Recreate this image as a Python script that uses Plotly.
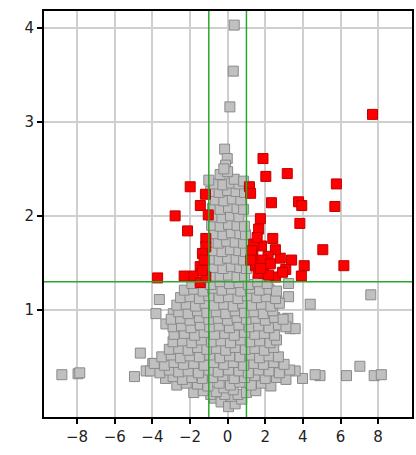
import plotly.graph_objects as go

# Significant features (|log2 FC| > 1 and -log10 p > 1.3)
red_x = [7.70, 1.88, 2.03, 3.17, 5.78, 2.33, 3.77, 3.94, 5.70, 3.84, 1.16, 1.22,
         5.06, 6.18, 4.07, 3.92, 3.40, 3.09, 2.55, 2.80, 2.54, 2.40, 1.74, 1.65,
         1.80, 1.34, 1.48, 2.15, 1.92, 1.39, 1.57, 1.83, 2.27, 2.92, 1.62, 2.18,
         1.27, 1.22, 1.74,
         -1.99, -1.18, -1.45, -2.79, -1.03, -2.13, -1.16, -1.16, -1.34, -1.46,
         -1.25, -3.72, -2.31, -1.78, -1.46, -1.16, -1.34]
red_y = [3.08, 2.61, 2.42, 2.45, 2.34, 2.14, 2.15, 2.11, 2.10, 1.92, 2.31, 2.24,
         1.64, 1.47, 1.47, 1.36, 1.53, 1.43, 1.35, 1.55, 1.64, 1.76, 1.97, 1.86,
         1.68, 1.59, 1.47, 1.57, 1.39, 1.70, 1.77, 1.53, 1.49, 1.40, 1.39, 1.37,
         1.63, 1.53, 1.44,
         2.31, 2.23, 2.11, 2.00, 2.01, 1.84, 1.76, 1.67, 1.60, 1.46,
         1.53, 1.34, 1.36, 1.36, 1.29, 1.35, 1.42]

# Non-significant features
grey_xy = [
    # isolated points
    (0.35, 4.03), (0.30, 3.54), (0.12, 3.16), (-0.16, 2.71), (-0.02, 2.61), (-0.11, 2.54),
    (7.61, 1.16), (4.39, 1.06), (3.24, 1.14), (3.24, 1.28), (-3.63, 1.11), (-3.81, 0.96),
    (-3.28, 0.85), (-2.89, 0.96), (-4.64, 0.54), (-8.81, 0.31), (-7.95, 0.32), (-7.86, 0.33),
    (-4.95, 0.29), (-4.33, 0.35), (-3.98, 0.43), (6.32, 0.30), (7.03, 0.40), (7.79, 0.30),
    (8.17, 0.31), (4.91, 0.30), (4.65, 0.31), (3.98, 0.27), (3.59, 0.35), (3.20, 0.91),
    (3.33, 0.80), (3.59, 0.80), (2.62, 1.10),
    # y below 0.1
    (-0.70, 0.06), (-0.35, 0.02), (0.05, -0.03), (0.40, 0.00), (0.75, 0.05), (0.20, 0.08),
    (-0.15, 0.10), (0.55, 0.10), (-0.90, 0.10),
    # y 0.1 - 0.3
    (-1.80, 0.12), (-1.30, 0.14), (-0.60, 0.13), (0.30, 0.15), (1.00, 0.12), (1.50, 0.14),
    (-0.20, 0.17), (-2.70, 0.20), (-2.20, 0.22), (-1.60, 0.21), (-1.05, 0.19), (-0.45, 0.22),
    (0.15, 0.20), (0.65, 0.23), (1.25, 0.20), (1.80, 0.22), (2.30, 0.19), (-3.30, 0.27),
    (-2.90, 0.29), (-2.40, 0.26), (-1.90, 0.28), (-1.35, 0.27), (-0.80, 0.28), (-0.25, 0.30),
    (0.35, 0.27), (0.90, 0.28), (1.45, 0.30), (2.00, 0.27), (2.60, 0.28), (3.10, 0.26),
    # y 0.3 - 0.6
    (-4.10, 0.35), (-3.60, 0.33), (-3.10, 0.36), (-2.60, 0.34), (-2.10, 0.35), (-1.55, 0.33),
    (-1.00, 0.36), (-0.50, 0.34), (0.05, 0.36), (0.60, 0.35), (1.10, 0.33), (1.65, 0.36),
    (2.20, 0.35), (2.75, 0.33), (3.30, 0.36), (-3.90, 0.43), (-3.35, 0.41), (-2.85, 0.44),
    (-2.35, 0.42), (-1.80, 0.43), (-1.25, 0.41), (-0.75, 0.44), (-0.20, 0.42), (0.30, 0.44),
    (0.85, 0.41), (1.40, 0.43), (1.90, 0.42), (2.45, 0.44), (3.00, 0.42), (-3.50, 0.50),
    (-3.00, 0.52), (-2.50, 0.49), (-2.00, 0.51), (-1.50, 0.50), (-0.95, 0.52), (-0.40, 0.49),
    (0.10, 0.51), (0.65, 0.50), (1.20, 0.52), (1.70, 0.49), (2.20, 0.51), (2.70, 0.50),
    (-3.10, 0.58), (-2.60, 0.59), (-2.10, 0.57), (-1.60, 0.60), (-1.10, 0.58), (-0.60, 0.59),
    (-0.10, 0.57), (0.40, 0.60), (0.95, 0.58), (1.45, 0.59), (1.95, 0.57), (2.45, 0.60),
    # y 0.6 - 1.0
    (-2.90, 0.66), (-2.40, 0.67), (-1.90, 0.65), (-1.40, 0.68), (-0.85, 0.66), (-0.35, 0.67),
    (0.15, 0.65), (0.70, 0.68), (1.20, 0.66), (1.70, 0.67), (2.25, 0.65), (2.60, 0.68),
    (-2.85, 0.74), (-2.30, 0.75), (-1.75, 0.73), (-1.25, 0.76), (-0.70, 0.74), (-0.15, 0.75),
    (0.35, 0.73), (0.90, 0.76), (1.45, 0.74), (1.95, 0.75), (2.50, 0.73), (-2.90, 0.82),
    (-2.45, 0.83), (-1.95, 0.81), (-1.45, 0.84), (-0.95, 0.82), (-0.45, 0.83), (0.10, 0.81),
    (0.60, 0.84), (1.15, 0.82), (1.65, 0.83), (2.20, 0.81), (2.70, 0.84), (3.10, 0.82),
    (-3.00, 0.90), (-2.50, 0.91), (-2.00, 0.89), (-1.50, 0.92), (-1.00, 0.90), (-0.50, 0.91),
    (0.00, 0.89), (0.50, 0.92), (1.00, 0.90), (1.50, 0.91), (2.00, 0.89), (2.50, 0.92),
    (2.95, 0.90), (-2.60, 0.98), (-2.10, 0.96), (-1.60, 0.99), (-1.10, 0.97), (-0.60, 0.98),
    (-0.10, 0.96), (0.40, 0.99), (0.90, 0.97), (1.40, 0.98), (1.90, 0.96), (2.40, 0.99),
    # y 1.0 - 1.3
    (-2.70, 1.05), (-2.20, 1.06), (-1.70, 1.04), (-1.20, 1.07), (-0.70, 1.05), (-0.20, 1.06),
    (0.30, 1.04), (0.80, 1.07), (1.30, 1.05), (1.80, 1.06), (2.30, 1.04), (2.75, 1.07),
    (-2.50, 1.13), (-2.00, 1.14), (-1.50, 1.12), (-1.00, 1.15), (-0.45, 1.13), (0.05, 1.14),
    (0.55, 1.12), (1.05, 1.15), (1.55, 1.13), (2.05, 1.14), (2.55, 1.12), (-2.30, 1.21),
    (-1.80, 1.22), (-1.30, 1.20), (-0.80, 1.23), (-0.30, 1.21), (0.20, 1.22), (0.70, 1.20),
    (1.20, 1.23), (1.70, 1.21), (2.20, 1.22), (2.60, 1.20), (-1.90, 1.28), (-1.40, 1.29),
    (-0.90, 1.27), (-0.40, 1.30), (0.10, 1.28), (0.60, 1.29), (1.10, 1.27), (1.60, 1.30),
    (2.10, 1.28),
    # y 1.3 - 2.4, central column
    (-0.85, 1.36), (-0.40, 1.36), (0.05, 1.37), (0.50, 1.35), (0.90, 1.36),
    (-0.70, 1.45), (-0.25, 1.44), (0.20, 1.46), (0.65, 1.45), (1.00, 1.44),
    (-0.90, 1.54), (-0.45, 1.53), (0.00, 1.55), (0.45, 1.54), (0.85, 1.53),
    (-0.75, 1.63), (-0.30, 1.62), (0.15, 1.64), (0.60, 1.63), (0.95, 1.62),
    (-0.90, 1.72), (-0.50, 1.71), (-0.05, 1.73), (0.40, 1.72), (0.85, 1.71),
    (-0.70, 1.81), (-0.25, 1.80), (0.20, 1.82), (0.65, 1.81), (0.95, 1.80),
    (-0.85, 1.90), (-0.40, 1.89), (0.05, 1.91), (0.50, 1.90), (0.90, 1.89),
    (-0.75, 1.99), (-0.30, 1.98), (0.15, 2.00), (0.60, 1.99),
    (-0.80, 2.08), (-0.40, 2.07), (0.05, 2.09), (0.50, 2.08), (0.85, 2.07),
    (-0.65, 2.17), (-0.20, 2.16), (0.25, 2.18), (0.70, 2.17),
    (-0.90, 2.26), (-0.45, 2.25), (0.00, 2.27), (0.45, 2.26), (0.90, 2.25),
    (-0.70, 2.34), (-0.25, 2.33), (0.20, 2.35), (0.60, 2.34),
    (-1.00, 2.38), (0.35, 2.39), (0.85, 2.37), (-0.40, 2.44), (0.00, 2.47),
    (-0.20, 2.50),
]
grey_x = [p[0] for p in grey_xy]
grey_y = [p[1] for p in grey_xy]

fc_cut = 1.0
p_cut = 1.3

x_ticks = [-8, -6, -4, -2, 0, 2, 4, 6, 8]
x_labels = ["\u22128", "\u22126", "\u22124", "\u22122", "0", "2", "4", "6", "8"]
y_ticks = [1, 2, 3, 4]

fig = go.Figure()
fig.add_trace(go.Scatter(
    x=grey_x, y=grey_y, mode="markers",
    marker=dict(symbol="square", size=10, color="#c0c0c0",
                line=dict(color="#8a8a8a", width=1)),
    hoverinfo="x+y", showlegend=False,
))
fig.add_trace(go.Scatter(
    x=red_x, y=red_y, mode="markers",
    marker=dict(symbol="square", size=10, color="#ff0000",
                line=dict(color="#c00000", width=1)),
    hoverinfo="x+y", showlegend=False,
))

green = "#2ca52c"
for xv in (-fc_cut, fc_cut):
    fig.add_shape(type="line", xref="x", yref="paper", x0=xv, x1=xv, y0=0, y1=1,
                  line=dict(color=green, width=1.5), layer="above")
fig.add_shape(type="line", xref="paper", yref="y", x0=0, x1=1, y0=p_cut, y1=p_cut,
              line=dict(color=green, width=1.5), layer="above")

axis_common = dict(
    showline=True, linecolor="black", linewidth=2, mirror=True,
    ticks="outside", ticklen=5, tickwidth=2, tickcolor="black",
    showgrid=True, gridcolor="#cfcfcf", gridwidth=1.5, zeroline=False,
    tickfont=dict(family="DejaVu Sans", size=15, color="#222222"),
)

fig.update_xaxes(range=[-9.76, 9.8], tickvals=x_ticks, ticktext=x_labels, **axis_common)
fig.update_yaxes(range=[-0.14, 4.18], tickvals=y_ticks, **axis_common)

fig.update_layout(
    width=416, height=455,
    margin=dict(l=44, r=2, t=11, b=38),
    paper_bgcolor="white", plot_bgcolor="white",
)

fig.write_html("out.html")
